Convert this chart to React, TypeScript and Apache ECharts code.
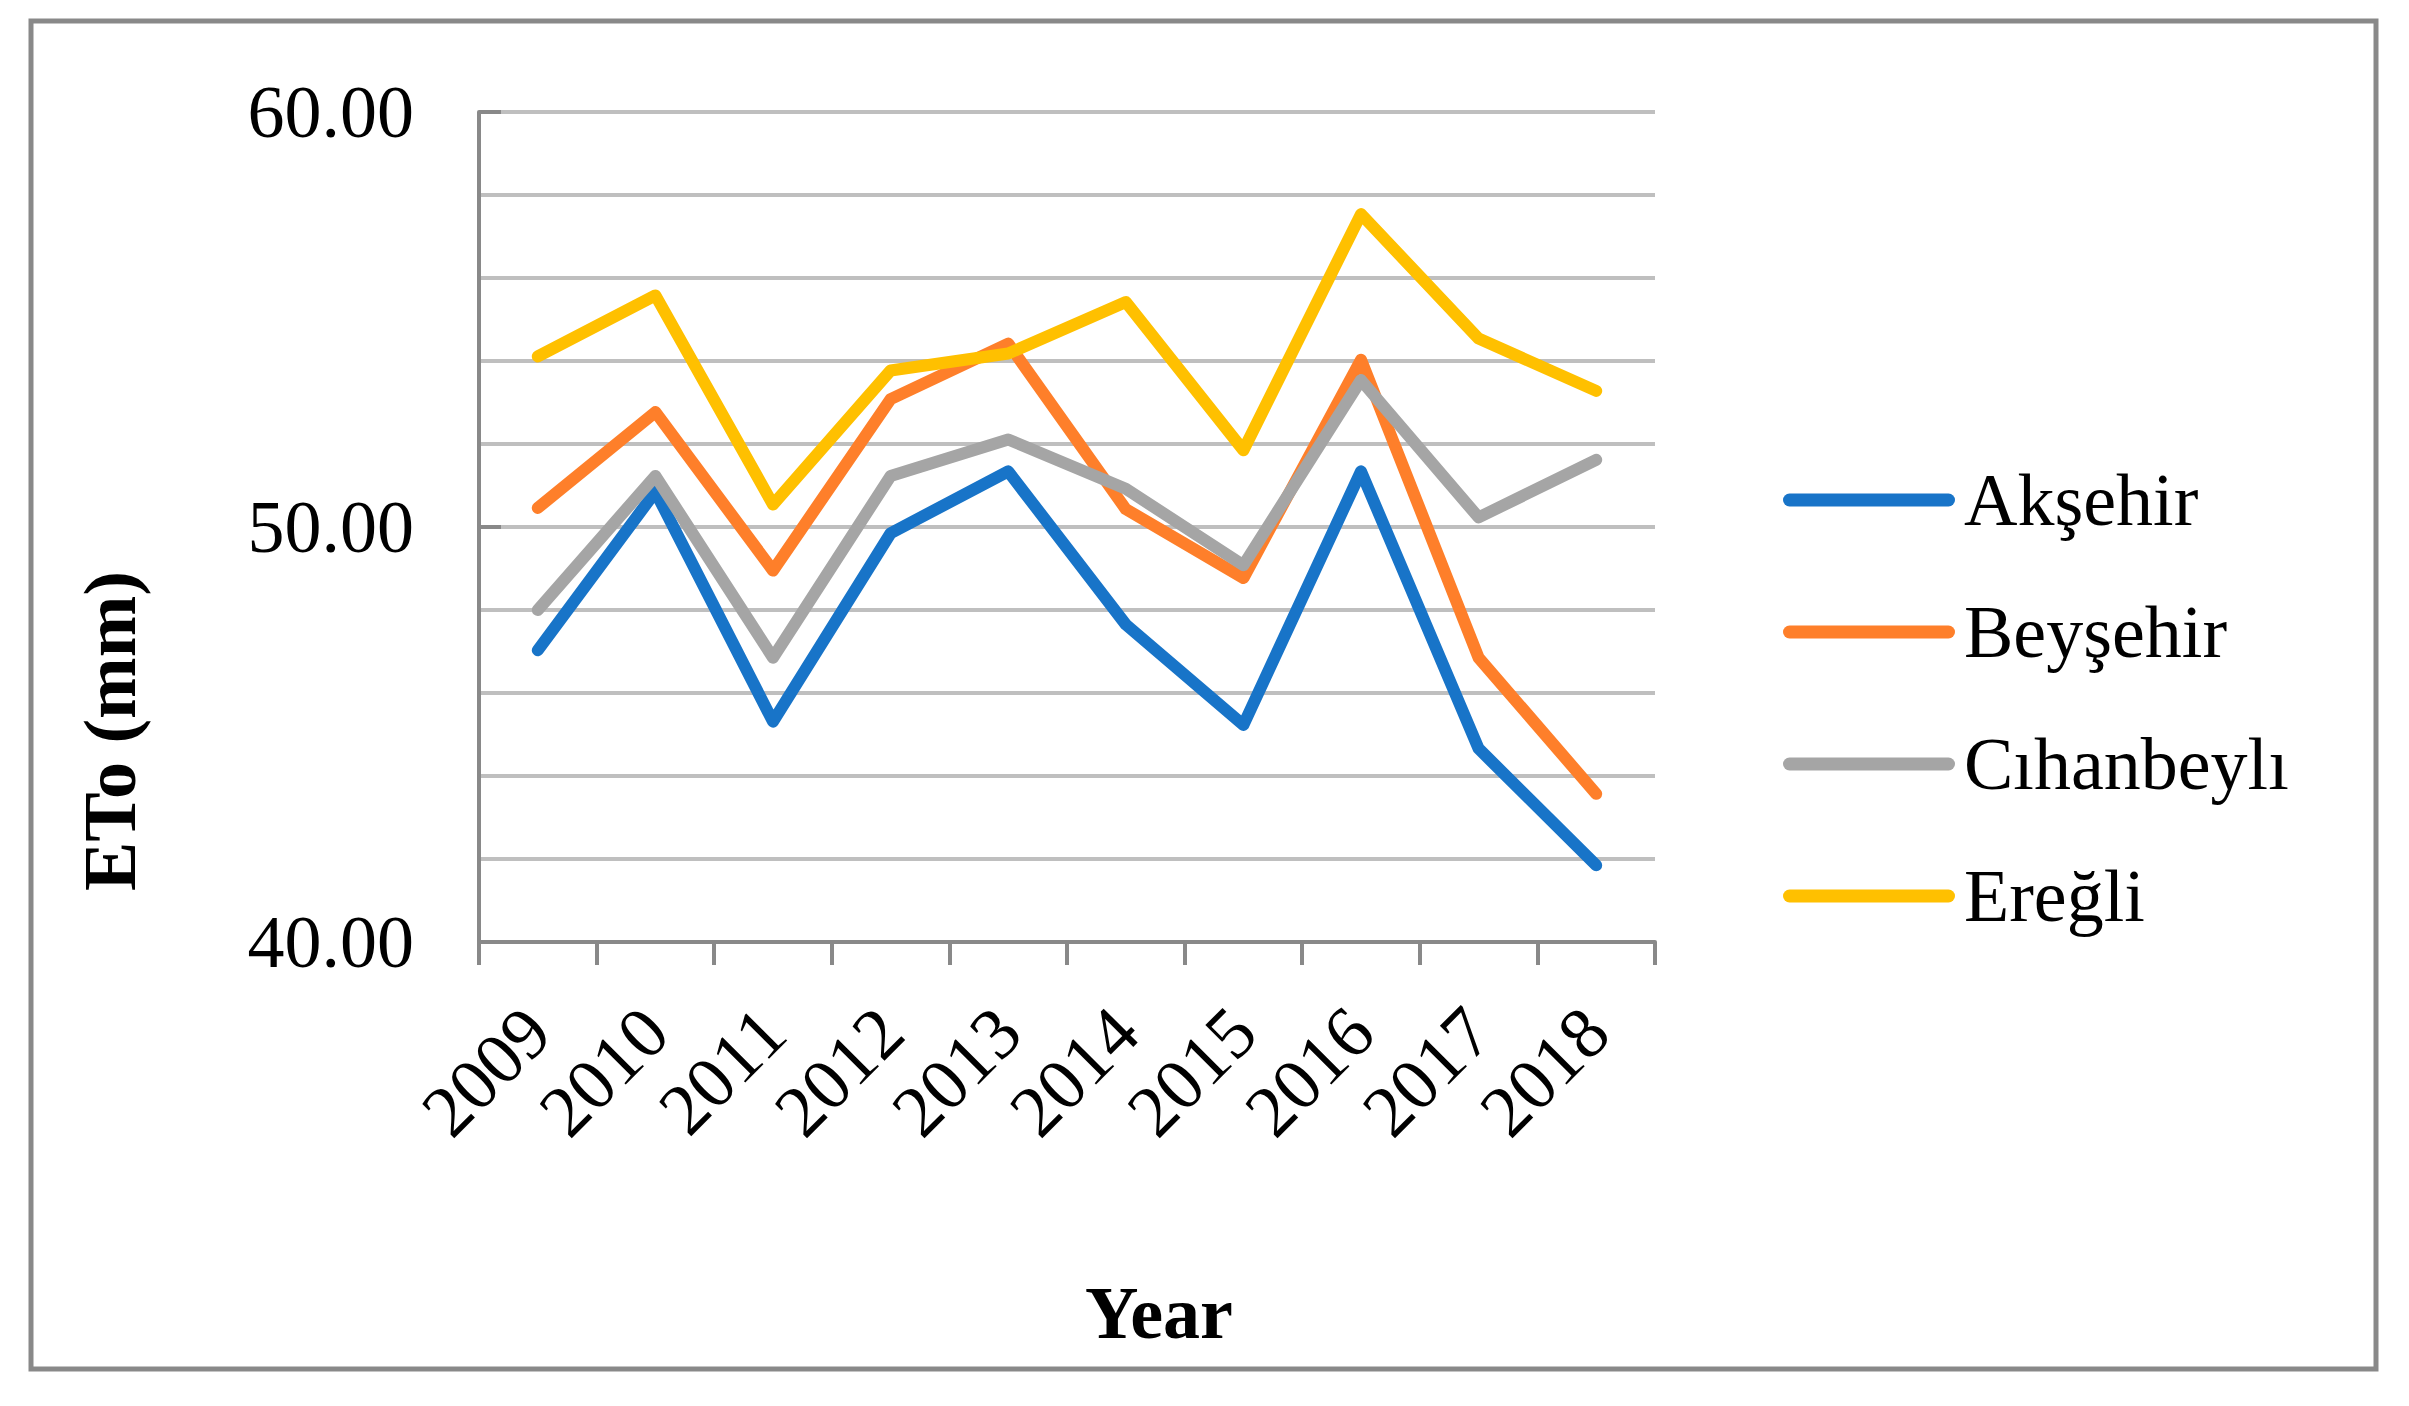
import React, { useEffect, useRef } from "react";
import * as echarts from "echarts";

const years = ["2009", "2010", "2011", "2012", "2013", "2014", "2015", "2016", "2017", "2018"];
const seriesNames = ["Akşehir", "Beyşehir", "Cıhanbeylı", "Ereğli"];
const aksehir = [47.03, 50.85, 45.31, 49.85, 51.34, 47.65, 45.23, 51.34, 44.66, 41.85];
const beysehir = [50.46, 52.77, 48.95, 53.08, 54.42, 50.43, 48.77, 54.03, 46.85, 43.57];
const cihanbeyli = [48.0, 51.23, 46.85, 51.23, 52.11, 50.92, 49.08, 53.54, 50.23, 51.62];
const eregli = [54.11, 55.58, 50.54, 53.77, 54.18, 55.42, 51.85, 57.54, 54.54, 53.28];
const seriesValues = [aksehir, beysehir, cihanbeyli, eregli];
const colors = ["#1874C8", "#FE7F2A", "#A5A5A5", "#FFC000"];
const yTitle = "ETo (mm)";
const xTitle = "Year";

const FONT = "'Liberation Serif', 'Times New Roman', serif";
const LEGEND_ICON = "path://M6.5,0H165.5A6.5,6.5,0,0,1,165.5,13H6.5A6.5,6.5,0,0,1,6.5,0Z";

export default function App() {
  const ref = useRef<HTMLDivElement>(null);
  useEffect(() => {
    document.body.style.margin = "0";
    if (!ref.current) return;
    const chart = echarts.init(ref.current, undefined, { renderer: "svg" });
    chart.setOption({
      animation: false,
      backgroundColor: "#ffffff",
      grid: { left: 479, top: 112, width: 1176, height: 830, containLabel: false },
      legend: {
        orient: "vertical",
        left: 1778,
        top: 458,
        itemWidth: 172,
        itemHeight: 13,
        itemGap: 58,
        icon: LEGEND_ICON,
        textStyle: {
          fontFamily: FONT,
          fontSize: 74,
          color: "#000",
          lineHeight: 74,
          padding: [0, 0, 0, 4],
        },
        data: seriesNames,
      },
      xAxis: {
        type: "category",
        data: years,
        boundaryGap: true,
        axisLine: { show: true, lineStyle: { color: "#898989", width: 4 } },
        axisTick: { show: true, length: 23, lineStyle: { color: "#898989", width: 4 } },
        axisLabel: {
          rotate: 45,
          margin: 78,
          fontFamily: FONT,
          fontSize: 73,
          color: "#000",
          interval: 0,
        },
        splitLine: { show: false },
      },
      yAxis: {
        type: "value",
        min: 40,
        max: 60,
        interval: 10,
        axisLine: { show: true, lineStyle: { color: "#898989", width: 4 } },
        axisTick: { show: true, inside: true, length: 22, lineStyle: { color: "#898989", width: 4 } },
        axisLabel: {
          margin: 65,
          fontFamily: FONT,
          fontSize: 74,
          color: "#000",
          formatter: (v: number) => v.toFixed(2),
        },
        splitLine: { show: true, lineStyle: { color: "#BFBFBF", width: 4 } },
        minorTick: { show: false, splitNumber: 5 },
        minorSplitLine: { show: true, lineStyle: { color: "#BFBFBF", width: 4 } },
      },
      series: seriesNames.map((name, i) => ({
        name,
        type: "line",
        data: seriesValues[i],
        symbol: "none",
        color: colors[i],
        lineStyle: { color: colors[i], width: 12, cap: "round", join: "round" },
        itemStyle: { color: colors[i] },
      })),
      graphic: [
        {
          type: "rect",
          shape: { x: 31, y: 21, width: 2345, height: 1348 },
          style: { fill: "none", stroke: "#898989", lineWidth: 5 },
          z: -1,
        },
        {
          type: "text",
          x: 110,
          y: 731,
          rotation: Math.PI / 2,
          style: {
            text: yTitle,
            fontFamily: FONT,
            fontSize: 74,
            fontWeight: "bold",
            fill: "#000",
            align: "center",
            verticalAlign: "middle",
          },
        },
        {
          type: "text",
          x: 1159,
          y: 1313,
          style: {
            text: xTitle,
            fontFamily: FONT,
            fontSize: 74,
            fontWeight: "bold",
            fill: "#000",
            align: "center",
            verticalAlign: "middle",
          },
        },
      ],
    });
    return () => chart.dispose();
  }, []);
  return <div ref={ref} style={{ width: 2409, height: 1406 }} />;
}
